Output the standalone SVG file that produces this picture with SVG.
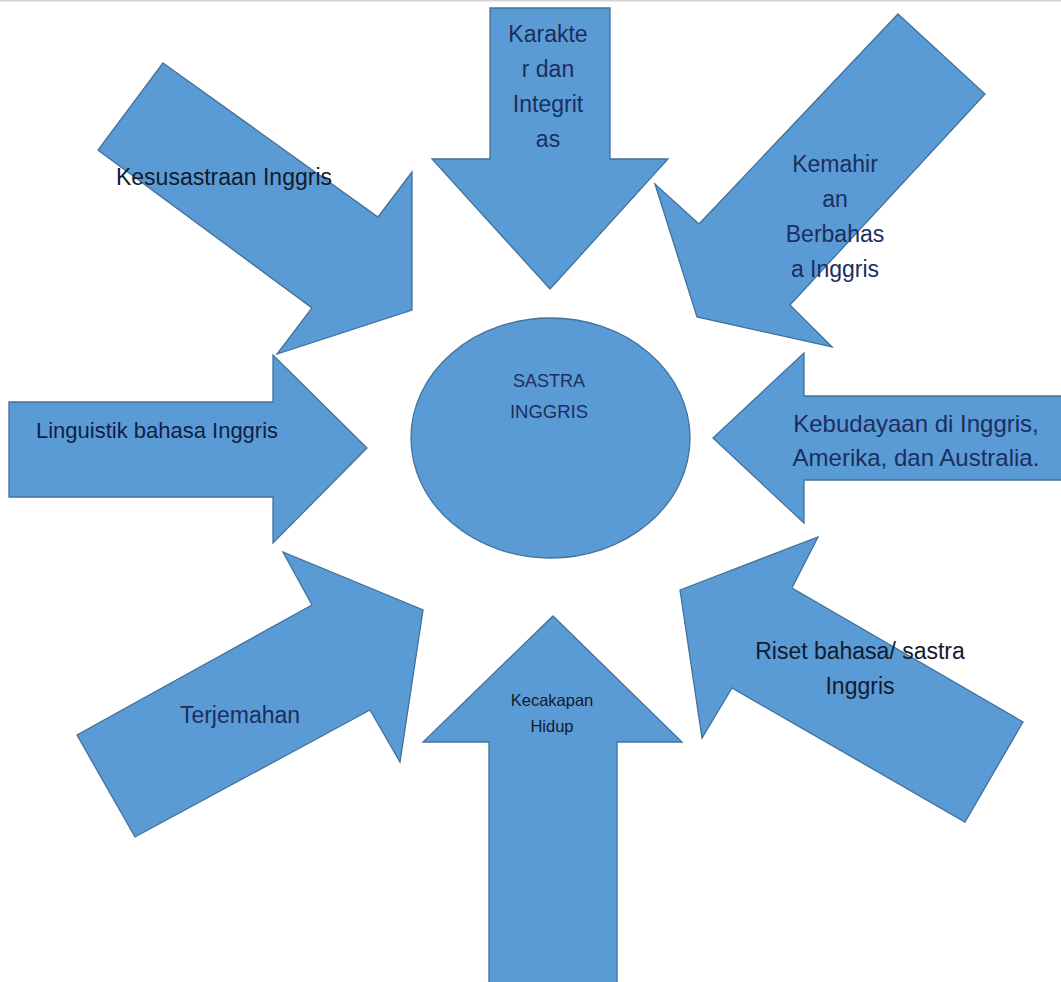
<svg xmlns="http://www.w3.org/2000/svg" width="1061" height="982" viewBox="0 0 1061 982">
<style>
.shape{fill:#5b9bd5;stroke:#41719c;stroke-width:1.3;stroke-linejoin:miter}
.t{font-family:"Liberation Sans",Arial,sans-serif;text-anchor:middle;fill:#1a2f5e}
.dk{fill:#121a2e}
</style>
<rect x="0" y="0" width="1061" height="982" fill="#ffffff"/>
<line x1="0" y1="0.8" x2="1061" y2="0.8" stroke="#d4d4d4" stroke-width="1.6"/>
<g id="connectors"></g>
<g id="node-sastra">
<ellipse class="shape" cx="550.5" cy="438" rx="139.5" ry="120"/>
<text class="t" font-size="18" x="549" y="387">SASTRA</text>
<text class="t" font-size="18.5" x="549" y="418">INGGRIS</text>
</g>
<g id="node-kesusastraan">
<polygon class="shape" points="163,63 378,217 412,172 412,310 277,354 312,308 98,150"/>
<text class="t dk" font-size="23" x="224" y="185">Kesusastraan Inggris</text>
</g>
<g id="node-karakter">
<polygon class="shape" points="490,8 610,8 610,159 668,159 550,289 432,159 490,159"/>
<text class="t" font-size="23" x="548" y="42">Karakte</text>
<text class="t" font-size="23" x="548" y="77">r dan</text>
<text class="t" font-size="23" x="548" y="112">Integrit</text>
<text class="t" font-size="23" x="548" y="147">as</text>
</g>
<g id="node-kemahiran">
<polygon class="shape" points="898,14 985,94 790,305 832,347 697,317 655,184 699,224"/>
<text class="t" font-size="23" x="835" y="172">Kemahir</text>
<text class="t" font-size="23" x="835" y="207">an</text>
<text class="t" font-size="23" x="835" y="242">Berbahas</text>
<text class="t" font-size="23" x="835" y="277">a Inggris</text>
</g>
<g id="node-linguistik">
<polygon class="shape" points="9,402 273,402 273,355 367,448 273,543 273,497 9,497"/>
<text class="t" font-size="22" x="157" y="438" style="fill:#0f1f45">Linguistik bahasa Inggris</text>
</g>
<g id="node-kebudayaan">
<polygon class="shape" points="1062,396 804,396 804,353 713,438 804,523 804,480 1062,480"/>
<text class="t" font-size="24" x="916" y="432">Kebudayaan di Inggris,</text>
<text class="t" font-size="24" x="916" y="466">Amerika, dan Australia.</text>
</g>
<g id="node-terjemahan">
<polygon class="shape" points="135,837 77,735 312,605 283,552 423,610 400,762 370,710"/>
<text class="t" font-size="23" x="240" y="723">Terjemahan</text>
</g>
<g id="node-kecakapan">
<polygon class="shape" points="553,616 682,742 617,742 617,983 489,983 489,742 423,742"/>
<text class="t dk" font-size="16.5" x="552" y="706">Kecakapan</text>
<text class="t dk" font-size="16.5" x="552" y="732">Hidup</text>
</g>
<g id="node-riset">
<polygon class="shape" points="680,590 818,537 792,588 1023,722 965,822 732,688 702,738"/>
<text class="t dk" font-size="23" x="860" y="659">Riset bahasa/ sastra</text>
<text class="t dk" font-size="23" x="860" y="694">Inggris</text>
</g>
</svg>
